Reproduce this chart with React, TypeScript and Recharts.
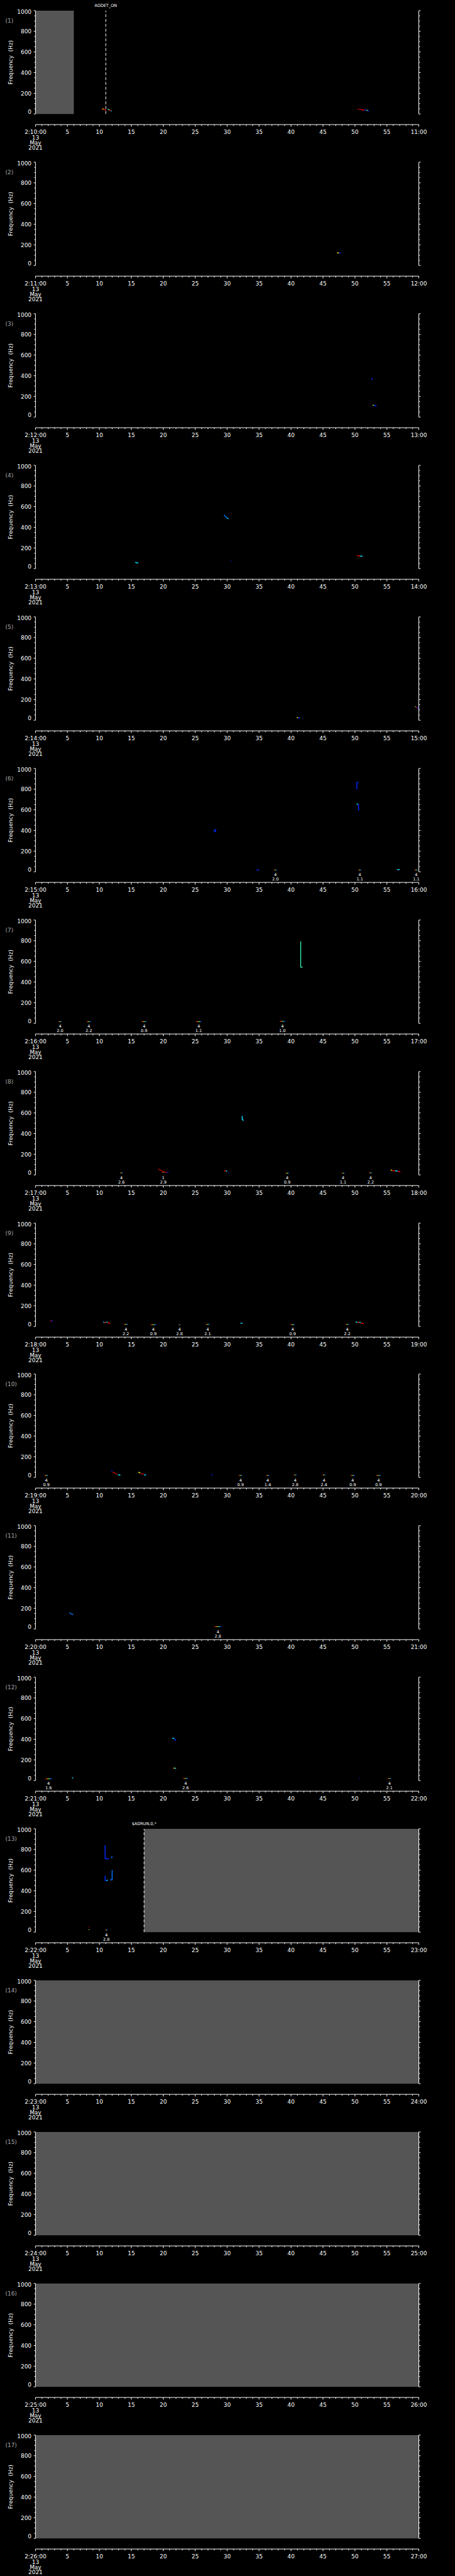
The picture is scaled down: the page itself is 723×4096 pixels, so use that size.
import React from 'react';
import { ComposedChart, XAxis, YAxis, Line, Scatter, ReferenceArea, ReferenceLine } from 'recharts';

const S = 0.705;
const W = 723;
const PANEL_H = 4096 / 17;
const AXIS_GAP = 24 * S;
const FONT = '"DejaVu Sans", "Liberation Sans", sans-serif';

const panelStarts = [
  '2:10:00', '2:11:00', '2:12:00', '2:13:00', '2:14:00', '2:15:00', '2:16:00', '2:17:00', '2:18:00',
  '2:19:00', '2:20:00', '2:21:00', '2:22:00', '2:23:00', '2:24:00', '2:25:00', '2:26:00',
];
const panelEnds = [
  '11:00', '12:00', '13:00', '14:00', '15:00', '16:00', '17:00', '18:00', '19:00',
  '20:00', '21:00', '22:00', '23:00', '24:00', '25:00', '26:00', '27:00',
];
const dateLines = ['13', 'May', '2021'];
const freqTicks = [0, 50, 100, 150, 200, 250, 300, 350, 400, 450, 500, 550, 600, 650, 700, 750, 800, 850, 900, 950, 1000];
const timeTicks = Array.from({ length: 61 }, (_, i) => i);
// each panel: one minute of seconds by 0-1000 Hz
const frame = [{ t: 0, f: 0 }, { t: 60, f: 1000 }];

// no-data intervals (seconds within the minute)
const gapBlocks = [
  { panel: 1, from: 0, to: 6 },
  { panel: 13, from: 17, to: 60 },
  { panel: 14, from: 0, to: 60 },
  { panel: 15, from: 0, to: 60 },
  { panel: 16, from: 0, to: 60 },
  { panel: 17, from: 0, to: 60 },
];

const eventLines = [
  { panel: 1, t: 11, text: 'ADDET_ON' },
  { panel: 13, t: 17, text: '$ADRUN,0,*' },
];

// detections: streak from t0 to t1 at frequency f, with class n and amplitude
const markers = [
  { panel: 6, t0: 37.3, t1: 37.8, f: 18, n: '4', amp: '2.0' },
  { panel: 6, t0: 50.5, t1: 51.0, f: 18, n: '4', amp: '1.1' },
  { panel: 6, t0: 59.3, t1: 59.9, f: 18, n: '4', amp: '1.1' },
  { panel: 7, t0: 3.6, t1: 4.1, f: 16, n: '4', amp: '2.0' },
  { panel: 7, t0: 8.0, t1: 8.7, f: 16, n: '4', amp: '2.2' },
  { panel: 7, t0: 16.6, t1: 17.4, f: 16, n: '4', amp: '0.9' },
  { panel: 7, t0: 25.1, t1: 26.0, f: 16, n: '4', amp: '1.1' },
  { panel: 7, t0: 38.2, t1: 39.1, f: 19, n: '4', amp: '1.0' },
  { panel: 8, t0: 13.2, t1: 13.7, f: 20, n: '4', amp: '2.6' },
  { panel: 8, t0: 19.8, t1: 20.2, f: 25, n: '1', amp: '2.9' },
  { panel: 8, t0: 39.1, t1: 39.7, f: 17, n: '4', amp: '0.9' },
  { panel: 8, t0: 47.9, t1: 48.4, f: 17, n: '4', amp: '1.1' },
  { panel: 8, t0: 52.2, t1: 52.7, f: 20, n: '4', amp: '2.2' },
  { panel: 9, t0: 13.8, t1: 14.5, f: 20, n: '4', amp: '2.2' },
  { panel: 9, t0: 18.0, t1: 18.9, f: 17, n: '4', amp: '0.9' },
  { panel: 9, t0: 22.4, t1: 22.7, f: 17, n: '4', amp: '2.8' },
  { panel: 9, t0: 26.6, t1: 27.3, f: 20, n: '4', amp: '2.1' },
  { panel: 9, t0: 39.9, t1: 40.6, f: 17, n: '4', amp: '0.9' },
  { panel: 9, t0: 48.5, t1: 49.1, f: 20, n: '4', amp: '2.2' },
  { panel: 10, t0: 1.4, t1: 2.0, f: 19, n: '4', amp: '0.9' },
  { panel: 10, t0: 31.8, t1: 32.4, f: 19, n: '4', amp: '0.9' },
  { panel: 10, t0: 36.1, t1: 36.6, f: 19, n: '4', amp: '1.4' },
  { panel: 10, t0: 40.4, t1: 40.9, f: 24, n: '4', amp: '2.8' },
  { panel: 10, t0: 44.9, t1: 45.4, f: 24, n: '4', amp: '2.4' },
  { panel: 10, t0: 49.3, t1: 50.0, f: 19, n: '4', amp: '0.9' },
  { panel: 10, t0: 53.3, t1: 54.1, f: 19, n: '4', amp: '0.9' },
  { panel: 11, t0: 28.0, t1: 29.1, f: 22, n: '4', amp: '2.8' },
  { panel: 12, t0: 1.5, t1: 2.6, f: 17, n: '4', amp: '1.6' },
  { panel: 12, t0: 23.1, t1: 23.9, f: 20, n: '4', amp: '2.6' },
  { panel: 12, t0: 55.1, t1: 55.7, f: 20, n: '4', amp: '2.1' },
  { panel: 13, t0: 10.9, t1: 11.3, f: 20, n: '4', amp: '2.8' },
];

const RED = '#e00000';
const DKRED = '#a80000';
const ORANGE = '#ff9000';
const YELLOW = '#ffee00';
const GREEN = '#70ff70';
const CYAN = '#00e0ff';
const BLUE = '#0028ff';
const MBLUE = '#0070ff';
const TEAL = '#30e0a0';

// spectrogram traces: [seconds, Hz]
const traces = [
  { panel: 1, color: ORANGE, pts: [[10.4, 49], [10.7, 47]] },
  { panel: 1, color: RED, pts: [[10.7, 45], [11.0, 36]] },
  { panel: 1, color: CYAN, pts: [[11.3, 47], [11.5, 43]] },
  { panel: 1, color: YELLOW, pts: [[11.5, 42], [11.6, 38]] },
  { panel: 1, color: RED, pts: [[11.6, 36], [11.8, 32]] },
  { panel: 1, color: CYAN, pts: [[11.8, 30], [11.9, 26]] },
  { panel: 1, color: DKRED, pts: [[50.4, 47], [51.0, 42]] },
  { panel: 1, color: RED, pts: [[51.0, 40], [51.5, 38]] },
  { panel: 1, color: BLUE, pts: [[51.5, 38], [51.8, 37]] },
  { panel: 1, color: GREEN, pts: [[51.8, 37], [52.0, 33]] },
  { panel: 1, color: BLUE, pts: [[52.0, 31], [52.2, 26]] },

  { panel: 2, color: YELLOW, pts: [[47.2, 123], [47.5, 122]] },
  { panel: 2, color: BLUE, pts: [[47.5, 122], [47.8, 121]] },

  { panel: 3, color: BLUE, pts: [[52.6, 376], [52.8, 361]] },
  { panel: 3, color: RED, pts: [[52.7, 119], [52.8, 117]] },
  { panel: 3, color: GREEN, pts: [[52.8, 116], [53.0, 112]] },
  { panel: 3, color: BLUE, pts: [[53.0, 112], [53.4, 110]] },

  { panel: 4, color: MBLUE, pts: [[29.5, 521], [29.8, 500], [30.0, 490]] },
  { panel: 4, color: CYAN, pts: [[30.0, 490], [30.2, 482]] },
  { panel: 4, color: CYAN, pts: [[15.6, 60], [16.1, 54]] },
  { panel: 4, color: BLUE, pts: [[30.5, 73], [30.6, 73]] },
  { panel: 4, color: RED, pts: [[50.3, 125], [50.8, 125]] },
  { panel: 4, color: CYAN, pts: [[50.8, 121], [51.2, 120]] },

  { panel: 5, color: YELLOW, pts: [[40.9, 26], [41.1, 24]] },
  { panel: 5, color: BLUE, pts: [[41.1, 22], [41.4, 19]] },
  { panel: 5, color: GREEN, pts: [[59.4, 133], [59.5, 131]] },
  { panel: 5, color: RED, pts: [[59.5, 128], [59.7, 120]] },
  { panel: 5, color: BLUE, pts: [[59.7, 118], [60, 118]] },

  { panel: 6, color: BLUE, pts: [[27.95, 410], [28.05, 388], [28.1, 388], [28.25, 413]] },
  { panel: 6, color: BLUE, pts: [[50.3, 798], [50.3, 863], [50.55, 865]] },
  { panel: 6, color: CYAN, pts: [[50.25, 655], [50.5, 655]] },
  { panel: 6, color: BLUE, pts: [[50.55, 655], [50.55, 601], [50.7, 601]] },
  { panel: 6, color: BLUE, pts: [[34.6, 17], [35.0, 19]] },
  { panel: 6, color: CYAN, pts: [[56.6, 21], [57.0, 21]] },

  { panel: 7, color: TEAL, pts: [[41.5, 793], [41.5, 546], [41.8, 543]] },

  { panel: 8, color: CYAN, pts: [[32.35, 570], [32.35, 540], [32.55, 525]] },
  { panel: 8, color: DKRED, pts: [[19.2, 56], [19.6, 45], [20.0, 32], [20.4, 25], [20.6, 22]] },
  { panel: 8, color: BLUE, pts: [[20.6, 22], [20.8, 21]] },
  { panel: 8, color: RED, pts: [[29.5, 41], [29.8, 37]] },
  { panel: 8, color: CYAN, pts: [[29.8, 37], [30.0, 37]] },
  { panel: 8, color: BLUE, pts: [[30.2, 19], [30.3, 19]] },
  { panel: 8, color: YELLOW, pts: [[55.6, 47], [55.8, 45]] },
  { panel: 8, color: RED, pts: [[55.8, 40], [56.3, 39]] },
  { panel: 8, color: CYAN, pts: [[56.3, 39], [56.7, 38]] },
  { panel: 8, color: RED, pts: [[56.7, 36], [57.1, 28]] },

  { panel: 9, color: RED, pts: [[2.3, 54], [2.5, 54]] },
  { panel: 9, color: BLUE, pts: [[2.5, 54], [2.7, 53]] },
  { panel: 9, color: CYAN, pts: [[10.6, 43], [10.8, 40]] },
  { panel: 9, color: RED, pts: [[10.8, 36], [11.1, 40]] },
  { panel: 9, color: CYAN, pts: [[11.1, 42], [11.3, 40]] },
  { panel: 9, color: RED, pts: [[11.3, 36], [11.7, 28]] },
  { panel: 9, color: CYAN, pts: [[32.1, 32], [32.4, 30]] },
  { panel: 9, color: CYAN, pts: [[50.1, 43], [50.4, 40]] },
  { panel: 9, color: RED, pts: [[50.4, 36], [50.7, 38]] },
  { panel: 9, color: CYAN, pts: [[50.7, 42], [50.9, 38]] },
  { panel: 9, color: RED, pts: [[50.9, 32], [51.4, 28]] },

  { panel: 10, color: BLUE, pts: [[11.9, 69], [12.0, 60]] },
  { panel: 10, color: RED, pts: [[12.1, 52], [12.4, 42]] },
  { panel: 10, color: DKRED, pts: [[12.4, 40], [12.8, 30]] },
  { panel: 10, color: CYAN, pts: [[12.9, 25], [13.3, 22]] },
  { panel: 10, color: YELLOW, pts: [[16.1, 50], [16.4, 44]] },
  { panel: 10, color: RED, pts: [[16.5, 40], [16.9, 30]] },
  { panel: 10, color: CYAN, pts: [[17.0, 26], [17.3, 22]] },
  { panel: 10, color: BLUE, pts: [[27.5, 24], [27.7, 24]] },

  { panel: 11, color: MBLUE, pts: [[5.3, 159], [5.5, 148], [5.9, 140]] },

  { panel: 12, color: CYAN, pts: [[5.7, 26], [5.9, 26]] },
  { panel: 12, color: CYAN, pts: [[21.4, 411], [21.7, 408]] },
  { panel: 12, color: BLUE, pts: [[21.7, 405], [22.0, 387]] },
  { panel: 12, color: YELLOW, pts: [[21.6, 120], [21.8, 120]] },
  { panel: 12, color: CYAN, pts: [[21.8, 120], [22.0, 118]] },
  { panel: 12, color: BLUE, pts: [[50.7, 20], [50.8, 20]] },

  { panel: 13, color: BLUE, pts: [[10.9, 843], [10.9, 710], [11.5, 710]] },
  { panel: 13, color: MBLUE, pts: [[11.95, 735], [11.95, 715]] },
  { panel: 13, color: BLUE, pts: [[10.9, 548], [10.9, 500], [11.1, 495]] },
  { panel: 13, color: CYAN, pts: [[11.1, 497], [11.3, 505]] },
  { panel: 13, color: MBLUE, pts: [[12.0, 600], [12.0, 506], [11.7, 506]] },
  { panel: 13, color: RED, pts: [[8.35, 52], [8.45, 52]] },
  { panel: 13, color: YELLOW, pts: [[8.35, 24], [8.45, 24]] },
];

const txt = { fontFamily: FONT, fill: '#fff' };

const freqTick = (side: 'left' | 'right') => (props: any) => {
  const { x, y, payload } = props;
  const v = payload.value;
  const major = v % 200 === 0;
  const len = (major ? 4 : 2.7) * S;
  const dir = side === 'left' ? -1 : 1;
  const nudge = v === 0 ? -5 * S : v === 1000 ? 3 * S : 0;
  return (
    <g>
      <line x1={x} x2={x + dir * len} y1={y} y2={y} stroke="#fff" strokeWidth={1} />
      {side === 'left' && major && (
        <text x={x - 9 * S} y={y + nudge} dy="0.36em" textAnchor="end" fontSize={12.7 * S} {...txt}>
          {v}
        </text>
      )}
    </g>
  );
};

const timeTick = (i: number) => (props: any) => {
  const { x, y, payload } = props;
  const v = payload.value;
  const major = v % 5 === 0;
  const y0 = y + AXIS_GAP;
  const label = v === 0 ? panelStarts[i] : v === 60 ? panelEnds[i] : major ? String(v) : null;
  return (
    <g>
      <line x1={x} x2={x} y1={y0} y2={y0 + (major ? 4.7 : 3) * S} stroke="#fff" strokeWidth={1} />
      {label && (
        <text x={x} y={y0 + 17 * S} dy="0.36em" textAnchor="middle" fontSize={12.7 * S} {...txt}>
          {label}
        </text>
      )}
      {v === 0 &&
        dateLines.map((d, k) => (
          <text key={d} x={x} y={y0 + (29 + 11.7 * k) * S} dy="0.36em" textAnchor="middle" fontSize={12.7 * S} {...txt}>
            {d}
          </text>
        ))}
    </g>
  );
};

const sideLabel = (p: number) => () => (
  <g>
    <text x={12 * S} y={47 * S} dy="0.36em" fontSize={12.7 * S} fontFamily={FONT} fill="#a8a8a8">
      ({p})
    </text>
    <text
      transform={`translate(${23.5 * S},${140.5 * S}) rotate(-90)`}
      textAnchor="middle"
      dy="0.36em"
      fontSize={12.7 * S}
      style={{ whiteSpace: 'pre' }}
      {...txt}
    >
      Frequency  (Hz)
    </text>
  </g>
);

const markerText = (props: any) => {
  const { cx, cy, payload } = props;
  return (
    <g>
      <text x={cx} y={cy + 6.3 * S} dy="0.36em" textAnchor="middle" fontSize={9.3 * S} {...txt}>
        {payload.n}
      </text>
      <text x={cx} y={cy + 15.7 * S} dy="0.36em" textAnchor="middle" fontSize={9.3 * S} {...txt}>
        {payload.amp}
      </text>
    </g>
  );
};

function Panel({ i }: { i: number }) {
  const p = i + 1;
  const gid = `jet${p}`;
  const gaps = gapBlocks.filter((d) => d.panel === p);
  const evs = eventLines.filter((d) => d.panel === p);
  const mks = markers.filter((d) => d.panel === p);
  const trs = traces.filter((d) => d.panel === p);
  const mkLabels = mks.map((m) => ({ t: (m.t0 + m.t1) / 2, f: 0, n: m.n, amp: m.amp }));

  return (
    <ComposedChart
      width={W}
      height={PANEL_H}
      data={frame}
      margin={{ top: 24 * S, right: 0, bottom: 0, left: 0 }}
      style={{ display: 'block' }}
    >
      <defs>
        <linearGradient id={gid} x1="0" y1="0" x2="1" y2="0">
          <stop offset="0" stopColor="#c00000" />
          <stop offset="0.3" stopColor="#ff8000" />
          <stop offset="0.45" stopColor="#ffff00" />
          <stop offset="0.6" stopColor="#40ff90" />
          <stop offset="0.78" stopColor="#00c0ff" />
          <stop offset="1" stopColor="#0000ff" />
        </linearGradient>
      </defs>
      <XAxis
        type="number"
        dataKey="t"
        domain={[0, 60]}
        ticks={timeTicks}
        interval={0}
        height={PANEL_H - 257 * S}
        tickSize={0}
        tickMargin={0}
        tickLine={false}
        axisLine={{ stroke: '#fff', strokeWidth: 1, transform: `translate(0 ${AXIS_GAP})` }}
        tick={timeTick(i)}
      />
      <YAxis
        type="number"
        domain={[0, 1000]}
        ticks={freqTicks}
        interval={0}
        width={80 * S}
        tickSize={0}
        tickMargin={0}
        tickLine={false}
        axisLine={{ stroke: '#fff', strokeWidth: 1 }}
        tick={freqTick('left')}
        label={sideLabel(p)}
      />
      <YAxis
        yAxisId="r"
        orientation="right"
        type="number"
        domain={[0, 1000]}
        ticks={freqTicks}
        interval={0}
        width={W - 944 * S}
        tickSize={0}
        tickMargin={0}
        tickLine={false}
        axisLine={{ stroke: '#fff', strokeWidth: 1 }}
        tick={freqTick('right')}
      />
      {/* invisible frame series so both frequency axes get their scale */}
      <Line dataKey="f" stroke="none" dot={false} activeDot={false} isAnimationActive={false} />
      <Line yAxisId="r" dataKey="f" stroke="none" dot={false} activeDot={false} isAnimationActive={false} />
      {gaps.map((g, k) => (
        <ReferenceArea key={`g${k}`} x1={g.from} x2={g.to} y1={0} y2={1000} fill="#555555" fillOpacity={1} stroke="none" />
      ))}
      {evs.map((e, k) => (
        <ReferenceLine
          key={`e${k}`}
          x={e.t}
          stroke="#fff"
          strokeWidth={1}
          strokeDasharray="4.7 3"
          label={{ value: e.text, position: 'top', offset: 9 * S, fill: '#fff', fontSize: 9.2 * S, fontFamily: FONT }}
        />
      ))}
      {mks.map((m, k) => (
        <ReferenceArea
          key={`m${k}`}
          x1={m.t0}
          x2={m.t1}
          y1={m.f - 3}
          y2={m.f + 3}
          fill={`url(#${gid})`}
          fillOpacity={1}
          stroke="none"
          ifOverflow="visible"
        />
      ))}
      {trs.map((tr, k) => (
        <Line
          key={`t${k}`}
          data={tr.pts.map(([t, f]) => ({ t, f }))}
          dataKey="f"
          stroke={tr.color}
          strokeWidth={1.5}
          dot={false}
          activeDot={false}
          isAnimationActive={false}
        />
      ))}
      {mkLabels.length > 0 && (
        <Scatter data={mkLabels} dataKey="f" shape={markerText} isAnimationActive={false} />
      )}
    </ComposedChart>
  );
}

export default function App() {
  return (
    <div
      style={{
        position: 'absolute',
        left: 0,
        top: 0,
        width: W,
        height: 4096,
        overflow: 'hidden',
        background: '#000',
        fontFamily: FONT,
      }}
    >
      {panelStarts.map((_, i) => (
        <Panel key={i} i={i} />
      ))}
    </div>
  );
}
